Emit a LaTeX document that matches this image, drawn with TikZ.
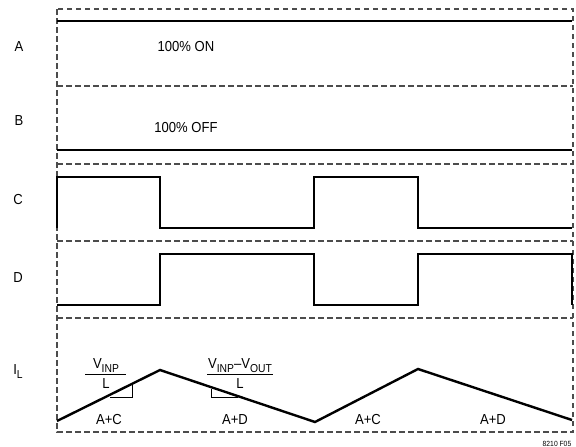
\documentclass[tikz,border=0pt]{standalone}
\usepackage{fontspec}
\setmainfont{Liberation Sans}[FakeStretch=0.9]
\begin{document}
\begin{tikzpicture}[x=1pt,y=-1pt,
  frame/.style={draw=black!70,line width=1.1pt,dash pattern=on 5.5pt off 3.5pt},
  wave/.style={draw=black,line width=2.4pt,line join=miter},
  slope/.style={draw=black,line width=0.9pt},
  lbl/.style={inner sep=0pt,font=\fontsize{14.5}{14.5}\selectfont},
  small/.style={inner sep=0pt,font=\fontsize{7.5}{7.5}\selectfont}]
\useasboundingbox (0,0) rectangle (576,447);
\newcommand{\subtxt}[1]{{\fontsize{11.5}{11.5}\selectfont\raisebox{-4pt}{#1}}}
% frame
\draw[frame] (57,9) rectangle (573,432);
\foreach \yy in {86,164,241,318} \draw[frame] (57,\yy) -- (573,\yy);
% row labels
\node[lbl] (la) at (19,47) {A};
\node[lbl] (lb) at (19,121) {B};
\node[lbl] (lc) at (18,200) {C};
\node[lbl] (ld) at (18,278) {D};
\node[lbl] (li) at (18,372) {I\subtxt{L}};
\node[lbl] (ton) at (186,47) {100\% ON};
\node[lbl] (toff) at (186,128) {100\% OFF};
% A and B
\draw[wave] (57,21) -- (572,21);
\draw[wave] (57,150) -- (572,150);
% C
\draw[wave] (57,228) -- (57,177) -- (160,177) -- (160,228) -- (314,228) -- (314,177) -- (418,177) -- (418,228) -- (572,228);
% D
\draw[wave] (57,305) -- (160,305) -- (160,254) -- (314,254) -- (314,305) -- (418,305) -- (418,254) -- (572,254) -- (572,305);
% IL
\coordinate (p0) at (57,421);
\coordinate (p1) at (160,370);
\coordinate (p2) at (315,422);
\coordinate (p3) at (418,369);
\coordinate (p4) at (572,420);
\draw[wave] (p0) -- (p1) -- (p2) -- (p3) -- (p4);
% slope markers
\draw[slope] (110,397) -- (132,397) -- (132,385);
\draw[slope] (211,389) -- (211,397) -- (238,397);
% fractions
\node[lbl,anchor=base] (n1) at (106,368.5) {V\subtxt{INP}};
\draw[slope] (85,374.5) -- (126,374.5);
\node[lbl,anchor=base] (d1) at (106,388) {L};
\node[lbl,anchor=base] (n2) at (240,368.5) {V\subtxt{INP}--V\subtxt{OUT}};
\draw[slope] (207,374.5) -- (273,374.5);
\node[lbl,anchor=base] (d2) at (240,388) {L};
% phase labels
\node[lbl] (ac1) at (109,420) {A+C};
\node[lbl] (ad1) at (235,420) {A+D};
\node[lbl] (ac2) at (368,420) {A+C};
\node[lbl] (ad2) at (493,420) {A+D};
\node[small] (fig) at (557,444) {8210 F05};
\end{tikzpicture}
\end{document}
